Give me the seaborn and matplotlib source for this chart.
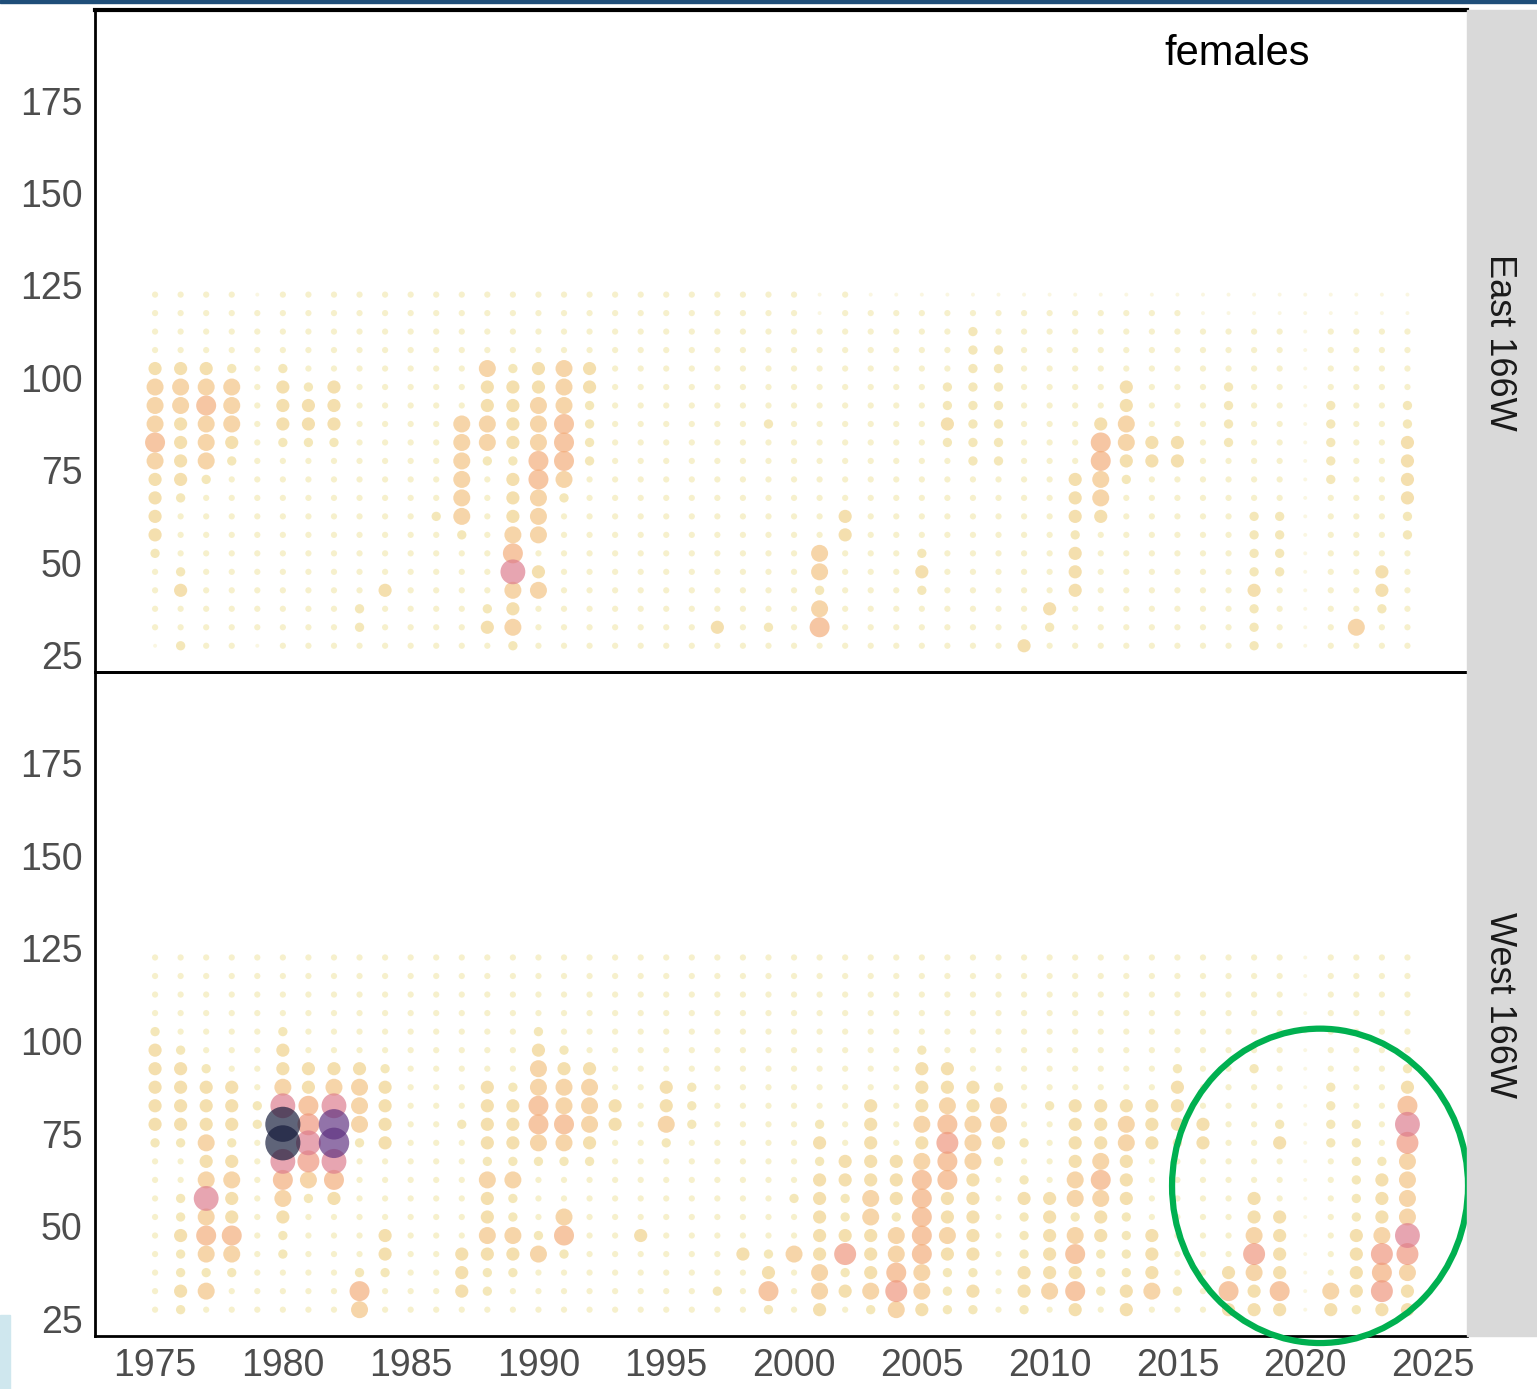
import numpy as np
import pandas as pd
import matplotlib
matplotlib.use("Agg")
import matplotlib.pyplot as plt
from matplotlib import font_manager
from matplotlib.patches import Ellipse, Rectangle
import seaborn as sns

# ---------------- data ----------------
years = list(range(1975, 2025))
length_bins = [27.5, 32.5, 37.5, 42.5, 47.5, 52.5, 57.5, 62.5, 67.5, 72.5,
               77.5, 82.5, 87.5, 92.5, 97.5, 102.5, 107.5, 112.5, 117.5, 122.5]

# one string per year (1975..2024); each char = intensity level (0-9) for the
# length bins listed above, bottom (27.5) to top (122.5)
east_levels = [
    "01111233334544431111", "21132111233334431111", "11111111124445431111",
    "11111111112344421111", "01111111111111111110", "11111111111233321111",
    "11111111111233211111", "11111111111233311111", "12211111111111111111",
    "11131111111111111111",  # 1984
    "11111111111111111111", "11111112111111111111", "11111124444441111111",
    "13211111112443341111", "24347543332333321111", "11143144455444331111",
    "11111111245554441111", "11111111112222331111", "11111111111111111111",
    "11111111111111111111",  # 1994
    "11111111111111111111", "11111111111111111111", "13111111111111111111",
    "11111111111111111111", "12111111111121111111", "11111111111111111111",
    "15424411111111111100", "11111133111111111111", "11111111111111111110",
    "11111111111111111110",  # 2004
    "11123211111111111110", "11111111111232211110", "11111111112222222210",
    "11111111112222222110", "31111111111111111110", "12311111111111111110",
    "11133323331111111110", "11111113445531111110", "11111111123443311110",
    "11111111113311111110",  # 2014
    "11111111113311111110", "11111111111111111100", "11111111111222211100",
    "22232222111111111100", "11112222111111111100", "00000000000000000000",
    "11111111122222111100", "14111111111111111100", "11233111111111111100",
    "11111122333322111100",  # 2024
]

west_levels = [
    "11111111123333321111", "23223221123333211111", "14245474343332111111",
    "11245334323331111111", "11111111112211111111", "11122345799743321111",
    "11111124676533111111", "11111135788743111111", "45211111124443111111",
    "11233111133332111111",  # 1984
    "11111111111111111111", "11111111111111111111", "13331111112111111111",
    "12234334233331111111", "11234224233321111111", "11142111245544321111",
    "11125411245443211111", "11111111234443111111", "11111111113311111111",
    "11113111111111111111",  # 1994
    "11111111124331111111", "11111111112221111111", "12111111111111111111",
    "11131111111111111111", "25321111111111111111", "11141121111111111111",
    "34433333232111111111", "13263223311111111111", "24333443333311111111",
    "46544233311111111111",  # 2004
    "34455555434333211111", "22234335565433111111", "23233333444331111111",
    "11111111234421111111", "23322232121111111111", "14333331111211111111",
    "35354244333311111111", "12223345433311111111", "33222233344311111111",
    "14333111133311111111",  # 2014
    "12111111123332111111", "11111111133111111111", "35311111111111111111",
    "33464331111112111111", "35333311132111111111", "00000000000000000000",
    "34111111122221111111", "23333222222111111111", "36564333211111111111",
    "33467444467532111111",  # 2024
]

panel_labels = ["East 166W", "West 166W"]
y_ticks = [25, 50, 75, 100, 125, 150, 175]
x_ticks = [1975, 1980, 1985, 1990, 1995, 2000, 2005, 2010, 2015, 2020, 2025]
title_text = "females"

# ---------------- styling ----------------
level_colors = {
    0: "#f8f3d4", 1: "#f3e9b4", 2: "#efdd98", 3: "#f0d088", 4: "#f3c281",
    5: "#f3ab78", 6: "#ee947a", 7: "#dc7a8c", 8: "#5e3180", 9: "#141a3a",
}
level_sizes = {
    0: 8, 1: 20, 2: 45, 3: 90, 4: 150, 5: 207, 6: 250, 7: 320, 8: 480, 9: 640,
}

sns.set_style("white")
avail = {f.name for f in font_manager.fontManager.ttflist}
fam = "DejaVu Sans"
for cand in ["Liberation Sans Narrow", "Arial Narrow", "Liberation Sans", "DejaVu Sans"]:
    if cand in avail:
        fam = cand
        break
plt.rcParams["font.family"] = [fam, "DejaVu Sans"]


def build_frame(levels):
    rows = []
    for yr, s in zip(years, levels):
        for ln, ch in zip(length_bins, s):
            rows.append((yr, ln, int(ch)))
    df = pd.DataFrame(rows, columns=["year", "length", "level"])
    return df.sort_values("level", kind="stable").reset_index(drop=True)


W, H = 1537, 1389
fig = plt.figure(figsize=(W / 100, H / 100), dpi=100)
fig.patch.set_facecolor("white")

ax1 = fig.add_axes([95 / W, 1 - 672 / H, (1467 - 95) / W, (672 - 10) / H])
ax2 = fig.add_axes([95 / W, 1 - 1336 / H, (1467 - 95) / W, (1336 - 672) / H])

for ax, levels in [(ax1, east_levels), (ax2, west_levels)]:
    df = build_frame(levels)
    sns.scatterplot(data=df, x="year", y="length", hue="level", size="level",
                    palette=level_colors, sizes=level_sizes, alpha=0.68,
                    linewidth=0, legend=False, ax=ax)
    ax.set_xlim(1972.65, 2026.33)
    ax.set_ylim(20.4, 199.5)
    ax.set_xlabel("")
    ax.set_ylabel("")
    ax.set_yticks(y_ticks)
    ax.tick_params(axis="both", length=6, width=1.6, color="#333333",
                   labelsize=27, labelcolor="#4d4d4d", pad=3)
    for sp in ["left", "top", "bottom"]:
        ax.spines[sp].set_color("black")
        ax.spines[sp].set_linewidth(2)
    ax.spines["right"].set_visible(False)

ax1.set_xticks([])
ax1.spines["top"].set_linewidth(3)
ax2.patch.set_alpha(0)
ax2.set_xticks(x_ticks)

# strips
fig.patches.append(Rectangle((1467 / W, 1 - 1336 / H), 70 / W, (1336 - 10) / H,
                             transform=fig.transFigure, color="#d9d9d9", zorder=0))
fig.text(1500 / W, 1 - 342 / H, panel_labels[0], rotation=270, ha="center",
         va="center", fontsize=26, color="#1a1a1a")
fig.text(1500 / W, 1 - 1005 / H, panel_labels[1], rotation=270, ha="center",
         va="center", fontsize=26, color="#1a1a1a")

# annotation text
fig.text(1237 / W, 1 - 54 / H, title_text, ha="center", va="center",
         fontsize=30, color="black")

# highlight circle
ax2.add_patch(Ellipse((2020.58, 60.9), width=11.58, height=84.8, fill=False,
                      edgecolor="#00b050", linewidth=4.5, clip_on=False, zorder=5))

# slide decorations
fig.patches.append(Rectangle((0, 1 - 3 / H), 1, 3 / H, transform=fig.transFigure,
                             color="#1f4e79", zorder=0))
fig.patches.append(Rectangle((0, 0), 10 / W, 74 / H, transform=fig.transFigure,
                             color="#cfe7ee", zorder=0))

fig.savefig("out.png", dpi=100)
